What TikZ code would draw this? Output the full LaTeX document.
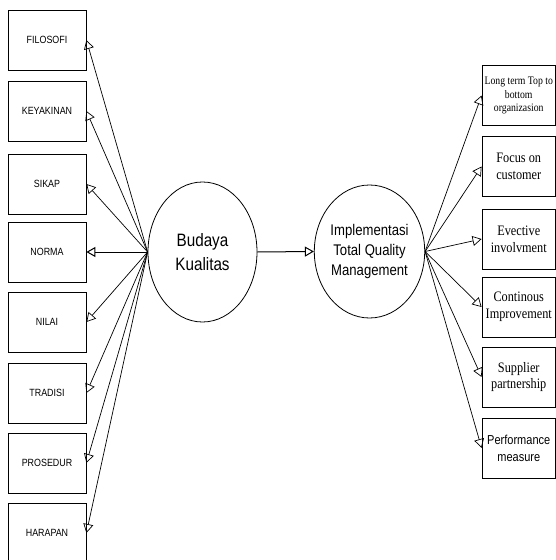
\documentclass[tikz,border=0pt]{standalone}
\usepackage{fontspec}
\setmainfont{Liberation Sans}
\newfontfamily\arialn{Liberation Sans}[FakeStretch=0.85]
\newfontfamily\timesn{Liberation Serif}[FakeStretch=0.85]
\usetikzlibrary{arrows.meta,shapes.geometric}
\begin{document}
\begin{tikzpicture}[x=1bp,y=-1bp,
 lbox/.style={draw, line width=0.8bp, minimum width=78bp, minimum height=60bp, inner sep=0pt, font=\arialn\fontsize{10.5}{12}\selectfont},
 rbox/.style={draw, line width=0.8bp, minimum width=73.5bp, minimum height=60bp, inner sep=1pt, align=center, font=\timesn\fontsize{14.5}{17}\selectfont},
 oval/.style={draw, ellipse, line width=0.8bp, inner sep=0pt, align=center},
 conn/.style={-{Triangle[open,length=9bp,width=10bp]}, line width=0.7bp}]
\useasboundingbox (0,0) rectangle (556,560);
% left boxes
\node[lbox] (filosofi) at (47,40) {FILOSOFI};
\node[lbox] (keyakinan) at (47,111) {KEYAKINAN};
\node[lbox] (sikap) at (47,184) {SIKAP};
\node[lbox] (norma) at (47,252) {NORMA};
\node[lbox] (nilai) at (47,322) {NILAI};
\node[lbox] (tradisi) at (47,393) {TRADISI};
\node[lbox] (prosedur) at (47,463) {PROSEDUR};
\node[lbox] (harapan) at (47,533) {HARAPAN};
% ellipses
\node[oval, minimum width=109bp, minimum height=140bp, font=\arialn\fontsize{18}{24}\selectfont] (budaya) at (202.5,252) {Budaya\\Kualitas};
\node[oval, minimum width=103bp, minimum height=133bp, font=\arialn\fontsize{15.5}{20}\selectfont] (impl) at (369.5,251.5) {Implementasi\\Total Quality\\Management};
% right boxes
\node[rbox, font=\timesn\fontsize{11.5}{14}\selectfont] (r1) at (518.75,95.5) {Long term Top to\\bottom\\organizasion};
\node[rbox] (r2) at (518.75,166.5) {Focus on\\customer};
\node[rbox] (r3) at (518.75,239) {Evective\\involvment};
\node[rbox] (r4) at (518.75,307) {Continous\\Improvement};
\node[rbox] (r5) at (518.75,377) {Supplier\\partnership};
\node[rbox, font=\arialn\fontsize{13}{17}\selectfont] (r6) at (518.75,448) {Performance\\measure};
% connectors
\foreach \n in {filosofi,keyakinan,sikap,nilai,tradisi,prosedur,harapan}
  \draw[conn] (budaya.west) -- (\n.east);
\draw[conn, line width=1bp] (budaya.west) -- (norma.east);
\draw[conn, line width=1bp] (budaya.east) -- (impl.west);
\foreach \n in {r1,r2,r3,r4,r5,r6}
  \draw[conn] (impl.east) -- (\n.west);
\end{tikzpicture}
\end{document}
